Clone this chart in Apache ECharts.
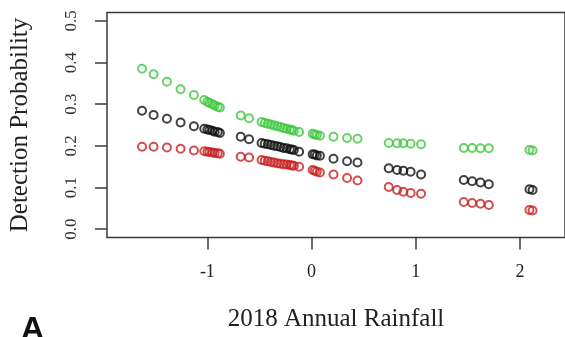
<!DOCTYPE html>
<html>
<head>
<meta charset="utf-8">
<script src="https://cdn.jsdelivr.net/npm/echarts@6/dist/echarts.min.js"></script>
<style>
html,body{margin:0;padding:0;background:#fff;}
#chart{width:565px;height:337px;}
</style>
</head>
<body>
<div id="chart"></div>
<script>
// Shared rainfall (standardised) values
var rainfall = [-1.627, -1.516, -1.388, -1.257, -1.129,
  -1.03, -1.0, -0.98, -0.95, -0.93, -0.90, -0.88,
  -0.68, -0.60,
  -0.48, -0.45, -0.42, -0.39, -0.36, -0.33, -0.30, -0.27, -0.24, -0.21, -0.19, -0.17,
  -0.12,
  0.01, 0.03, 0.05, 0.08,
  0.21, 0.34, 0.44,
  0.74, 0.82, 0.88, 0.95, 1.05,
  1.46, 1.54, 1.62, 1.70,
  2.09, 2.12];
var upperProb = [0.385, 0.372, 0.354, 0.336, 0.322,
  0.310, 0.306, 0.303, 0.300, 0.297, 0.294, 0.292,
  0.273, 0.266,
  0.257, 0.255, 0.253, 0.251, 0.249, 0.247, 0.245, 0.243, 0.241, 0.239, 0.238, 0.236,
  0.233,
  0.229, 0.227, 0.226, 0.224,
  0.222, 0.219, 0.217,
  0.207, 0.206, 0.206, 0.205, 0.204,
  0.195, 0.195, 0.194, 0.194,
  0.190, 0.189];
var meanProb = [0.284, 0.274, 0.265, 0.256, 0.247,
  0.241, 0.239, 0.238, 0.236, 0.234, 0.233, 0.231,
  0.222, 0.216,
  0.207, 0.205, 0.204, 0.202, 0.200, 0.199, 0.197, 0.195, 0.194, 0.192, 0.191, 0.190,
  0.186,
  0.180, 0.179, 0.177, 0.176,
  0.169, 0.163, 0.160,
  0.146, 0.142, 0.140, 0.138, 0.131,
  0.118, 0.115, 0.112, 0.108,
  0.096, 0.094];
var lowerProb = [0.198, 0.198, 0.196, 0.193, 0.189,
  0.187, 0.186, 0.185, 0.184, 0.183, 0.182, 0.181,
  0.174, 0.172,
  0.166, 0.164, 0.163, 0.161, 0.160, 0.158, 0.157, 0.156, 0.155, 0.154, 0.153, 0.152,
  0.150,
  0.142, 0.140, 0.138, 0.136,
  0.131, 0.123, 0.117,
  0.101, 0.094, 0.090, 0.087, 0.085,
  0.065, 0.063, 0.061, 0.058,
  0.046, 0.045];
var xTicks = [-1, 0, 1, 2];
var yTicks = [0, 0.1, 0.2, 0.3, 0.4, 0.5];

function pairs(ys) {
  return rainfall.map(function (x, i) { return [x, ys[i]]; });
}
function ser(ys, color) {
  return {
    type: 'scatter',
    data: pairs(ys),
    symbol: 'circle',
    symbolSize: 8,
    itemStyle: { color: 'rgba(0,0,0,0)', borderColor: color, borderWidth: 2 },
    emphasis: { disabled: true },
    silent: true
  };
}
var serif = 'Liberation Serif, Times New Roman, serif';
var chart = echarts.init(document.getElementById('chart'), null, { renderer: 'canvas' });
chart.setOption({
  animation: false,
  backgroundColor: '#fff',
  grid: {
    left: 106.5, right: 0, top: 12.5, bottom: 99.5,
    show: true, borderColor: '#3a3a3a', borderWidth: 1.5, backgroundColor: 'transparent'
  },
  xAxis: {
    type: 'value', min: -1.963, max: 2.431,
    axisLine: { show: false, onZero: false },
    splitLine: { show: false },
    axisTick: { show: true, customValues: xTicks, length: 12, lineStyle: { color: '#3a3a3a', width: 1.5 } },
    axisLabel: { customValues: xTicks, fontSize: 18, fontFamily: serif, color: '#222', margin: 26 },
    name: '2018 Annual Rainfall', nameLocation: 'middle', nameGap: 69,
    nameTextStyle: { fontSize: 25, fontFamily: serif, color: '#222' }
  },
  yAxis: {
    type: 'value', min: -0.02, max: 0.52,
    axisLine: { show: false, onZero: false },
    splitLine: { show: false },
    axisTick: { show: true, customValues: yTicks, length: 12, lineStyle: { color: '#3a3a3a', width: 1.5 } },
    axisLabel: { customValues: yTicks, rotate: 90, fontSize: 17, fontFamily: serif, color: '#333', margin: 27,
      formatter: function (v) { return v.toFixed(1); } },
    name: 'Detection Probability', nameLocation: 'middle', nameGap: 74,
    nameTextStyle: { fontSize: 25, fontFamily: serif, color: '#222' }
  },
  graphic: [{
    type: 'text', left: 21, top: 314,
    style: { text: 'A', font: 'bold 32px Liberation Sans, Arial, sans-serif', fill: '#111' }
  }],
  series: [
    ser(upperProb, '#3ec83e'),
    ser(meanProb, '#111111'),
    ser(lowerProb, '#c82222')
  ]
});
</script>
</body>
</html>
